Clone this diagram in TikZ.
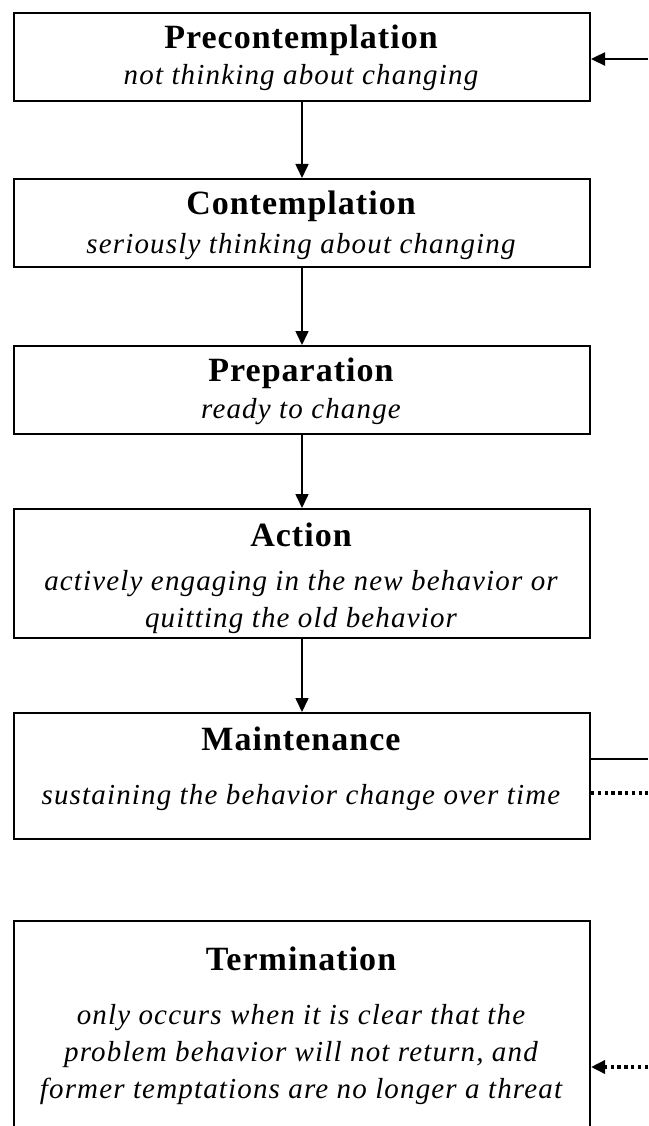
\documentclass[tikz,border=0pt]{standalone}
\usepackage{fontspec}
\setmainfont{Liberation Serif}
\usetikzlibrary{arrows.meta}

\tikzset{
  stagebox/.style={draw=black, line width=2pt, minimum width=576pt, anchor=north west, inner sep=0pt},
  title/.style={anchor=base, inner sep=0pt, font=\fontsize{34}{36}\selectfont\bfseries\addfontfeature{LetterSpace=3}},
  desc/.style={anchor=base, inner sep=0pt, font=\fontsize{29}{30}\selectfont\itshape\addfontfeature{LetterSpace=4}},
  tip/.style={-{Triangle[length=14pt,width=13pt]}},
  flow/.style={draw=black, line width=1.6pt, tip},
  feedback/.style={draw=black, line width=2.4pt},
  relapse/.style={draw=black, line width=3.4pt, dash pattern=on 3.4pt off 3.4pt},
}

\begin{document}
\begin{tikzpicture}[x=1pt, y=-1pt]
  \useasboundingbox (0,0) rectangle (648,1126);
  \clip (0,0) rectangle (648,1126);

  % stage boxes
  \node[stagebox, minimum height=88pt]  (pre)   at (13,12)  {};
  \node[stagebox, minimum height=88pt]  (con)   at (13,178) {};
  \node[stagebox, minimum height=88pt]  (prep)  at (13,345) {};
  \node[stagebox, minimum height=129pt] (act)   at (13,508) {};
  \node[stagebox, minimum height=126pt] (maint) at (13,712) {};
  \node[stagebox, minimum height=230pt] (term)  at (13,920) {};

  % stage names and descriptions
  \node[title] (preT)   at (301,49)  {Precontemplation};
  \node[desc]  (preD)   at (301,85)  {not thinking about changing};
  \node[title] (conT)   at (301,214) {Contemplation};
  \node[desc]  (conD)   at (301,253) {seriously thinking about changing};
  \node[title] (prepT)  at (301,381) {Preparation};
  \node[desc]  (prepD)  at (301,418) {ready to change};
  \node[title] (actT)   at (301,546) {Action};
  \node[desc]  (actD1)  at (301,590) {actively engaging in the new behavior or};
  \node[desc]  (actD2)  at (301,627) {quitting the old behavior};
  \node[title] (maintT) at (301,750) {Maintenance};
  \node[desc]  (maintD) at (301,804) {sustaining the behavior change over time};
  \node[title] (termT)  at (301,970) {Termination};
  \node[desc]  (termD1) at (301,1024) {only occurs when it is clear that the};
  \node[desc]  (termD2) at (301,1061) {problem behavior will not return, and};
  \node[desc]  (termD3) at (301,1098) {former temptations are no longer a threat};

  % forward progression
  \draw[flow] (pre.south)  -- (con.north);
  \draw[flow] (con.south)  -- (prep.north);
  \draw[flow] (prep.south) -- (act.north);
  \draw[flow] (act.south)  -- (maint.north);

  % links leaving the right edge
  \coordinate (inTop)   at (648,59);
  \coordinate (outSol)  at (648,759);
  \coordinate (outDot)  at (648,793);
  \coordinate (inDot)   at (648,1067);
  \draw[feedback, tip] (inTop) -- (pre.east |- inTop);
  \draw[feedback] (maint.east |- outSol) -- (outSol);
  \draw[relapse]  (maint.east |- outDot) -- (outDot);
  \draw[relapse, tip] (inDot) -- (term.east |- inDot);
\end{tikzpicture}
\end{document}
